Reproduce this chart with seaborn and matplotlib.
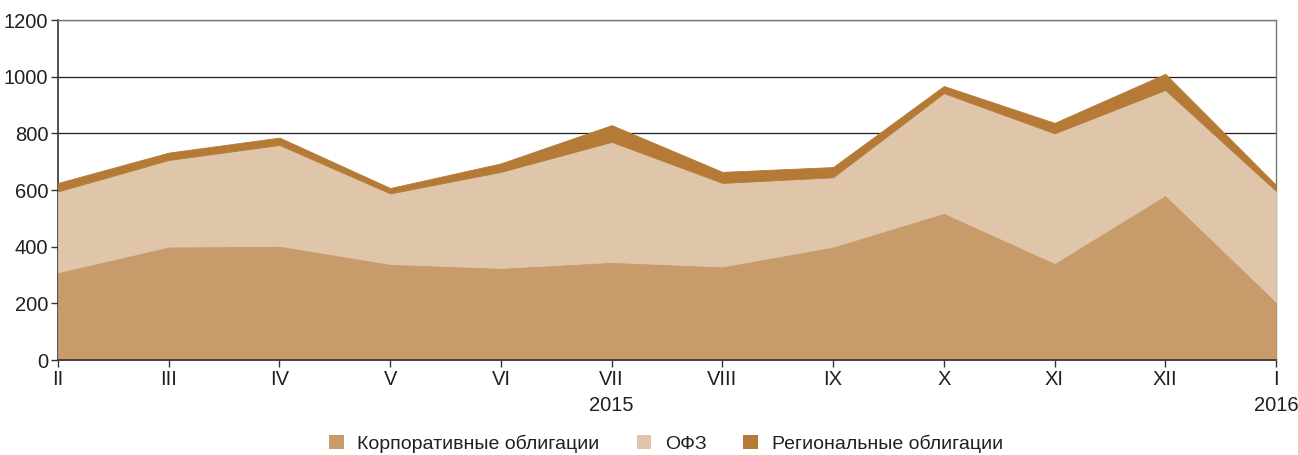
import numpy as np
import matplotlib
matplotlib.use("Agg")
import matplotlib.pyplot as plt
from matplotlib.patches import Patch
import seaborn as sns

months = ["II", "III", "IV", "V", "VI", "VII", "VIII", "IX", "X", "XI", "XII", "I"]
corporate = [310, 400, 403, 339, 325, 346, 330, 400, 519, 342, 582, 206]
ofz = [285, 306, 356, 249, 339, 424, 295, 245, 423, 458, 371, 391]
regional = [30, 26, 26, 19, 30, 59, 39, 36, 25, 37, 57, 21]
series_names = ["Корпоративные облигации", "ОФЗ", "Региональные облигации"]
colors = ["#C89B6B", "#DFC5A9", "#B57A35"]
y_ticks = [0, 200, 400, 600, 800, 1000, 1200]

sns.set_theme(style="white")
plt.rcParams["font.family"] = ["Liberation Sans", "DejaVu Sans"]

fig = plt.figure(figsize=(12.98, 4.55), dpi=100)
ax = fig.add_axes([58 / 1298, 1 - 360 / 455, 1218 / 1298, 340 / 455])

x = np.arange(len(months))
polys = ax.stackplot(x, corporate, ofz, regional, colors=colors, zorder=3)
for p, c in zip(polys, colors):
    p.set_edgecolor(c)
    p.set_linewidth(0.6)

ax.set_xlim(0, len(months) - 1)
ax.set_ylim(0, 1200)
ax.set_yticks(y_ticks)
ax.set_yticklabels([str(v) for v in y_ticks], fontsize=14.5, color="#231F20")
ax.set_xticks(x)
ax.set_xticklabels(months, fontsize=14.5, color="#231F20")

ax.set_axisbelow(True)
ax.yaxis.grid(True, color="#231F20", linewidth=0.9)
ax.tick_params(axis="both", direction="out", length=5, width=1, color="#333333",
               left=True, bottom=True, pad=2)

for side in ["top", "right"]:
    ax.spines[side].set_color("#777777")
    ax.spines[side].set_linewidth(1)
for side in ["left", "bottom"]:
    ax.spines[side].set_color("#333333")
    ax.spines[side].set_linewidth(1.2)
ax.spines["bottom"].set_zorder(5)

# year labels under the month axis
ax.text(5, -0.135, "2015", transform=ax.get_xaxis_transform(), ha="center", va="center",
        fontsize=14.5, color="#231F20")
ax.text(11, -0.135, "2016", transform=ax.get_xaxis_transform(), ha="center", va="center",
        fontsize=14.5, color="#231F20")

handles = [Patch(facecolor=c, edgecolor="none") for c in colors]
fig.legend(handles, series_names, loc="center", bbox_to_anchor=(666 / 1298, 11 / 455), ncol=3,
           frameon=False, fontsize=14, handlelength=0.75, handleheight=0.75,
           columnspacing=1.9, handletextpad=0.7, labelcolor="#231F20")

fig.savefig("out.png", dpi=100)
